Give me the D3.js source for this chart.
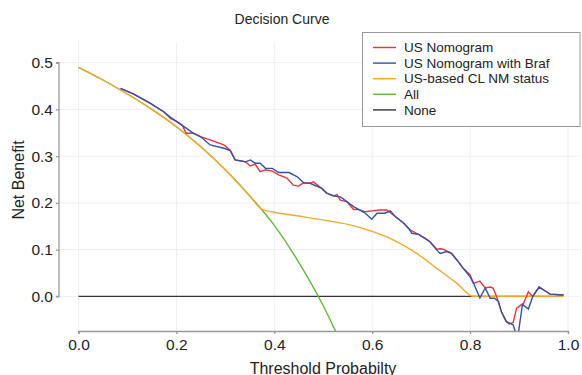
<!DOCTYPE html>
<html>
<head>
<meta charset="utf-8">
<script src="https://cdn.jsdelivr.net/npm/d3@7"></script>
<style>
  body { margin: 0; background: #fff; }
  text { font-family: "Liberation Sans", Arial, Helvetica, sans-serif; fill: #222; }
</style>
</head>
<body>
<div id="chart"></div>
<script>
// Series: [threshold, net benefit]
var usNomogram = [
  [0.086, 0.445], [0.113, 0.433], [0.147, 0.413], [0.174, 0.395], [0.188, 0.381],
  [0.201, 0.374], [0.212, 0.366], [0.220, 0.349], [0.235, 0.349], [0.249, 0.342],
  [0.269, 0.335], [0.297, 0.324], [0.310, 0.313], [0.320, 0.292], [0.341, 0.288],
  [0.351, 0.279], [0.361, 0.283], [0.371, 0.267], [0.382, 0.271], [0.396, 0.268],
  [0.409, 0.260], [0.426, 0.253], [0.439, 0.238], [0.449, 0.236], [0.460, 0.243],
  [0.473, 0.242], [0.480, 0.245], [0.497, 0.231], [0.507, 0.221], [0.521, 0.215],
  [0.528, 0.218], [0.535, 0.206], [0.548, 0.203], [0.562, 0.186], [0.572, 0.186],
  [0.586, 0.181], [0.599, 0.183], [0.616, 0.185], [0.630, 0.185], [0.647, 0.171],
  [0.664, 0.157], [0.674, 0.146], [0.681, 0.140], [0.694, 0.133], [0.708, 0.124],
  [0.718, 0.117], [0.732, 0.101], [0.739, 0.102], [0.745, 0.101], [0.762, 0.092],
  [0.773, 0.078], [0.786, 0.060], [0.800, 0.046], [0.807, 0.028], [0.820, 0.033],
  [0.831, 0.018], [0.841, 0.020], [0.847, 0.018], [0.854, 0.000], [0.864, -0.033],
  [0.874, -0.054], [0.880, -0.059], [0.888, -0.056], [0.895, -0.025], [0.909, -0.015],
  [0.919, 0.010], [0.928, 0.000], [0.941, 0.020], [0.956, 0.010], [0.963, 0.005],
  [0.991, 0.003]
];

var usNomogramBraf = [
  [0.086, 0.445], [0.113, 0.433], [0.147, 0.413], [0.174, 0.395], [0.188, 0.383],
  [0.201, 0.374], [0.220, 0.360], [0.235, 0.349], [0.249, 0.342], [0.269, 0.324],
  [0.297, 0.317], [0.310, 0.312], [0.320, 0.292], [0.341, 0.288], [0.351, 0.292],
  [0.361, 0.285], [0.371, 0.285], [0.382, 0.274], [0.396, 0.274], [0.409, 0.265],
  [0.430, 0.265], [0.447, 0.256], [0.460, 0.243], [0.473, 0.242], [0.497, 0.231],
  [0.507, 0.221], [0.521, 0.215], [0.535, 0.213], [0.548, 0.203], [0.562, 0.192],
  [0.572, 0.186], [0.586, 0.178], [0.599, 0.165], [0.610, 0.178], [0.626, 0.178],
  [0.637, 0.183], [0.647, 0.171], [0.664, 0.157], [0.674, 0.146], [0.681, 0.135],
  [0.694, 0.133], [0.708, 0.124], [0.718, 0.117], [0.732, 0.099], [0.739, 0.092],
  [0.752, 0.096], [0.762, 0.092], [0.773, 0.078], [0.786, 0.060], [0.800, 0.042],
  [0.807, 0.028], [0.820, -0.003], [0.831, 0.018], [0.841, -0.004], [0.850, -0.004],
  [0.858, -0.011], [0.864, -0.033], [0.874, -0.054], [0.883, -0.058], [0.888, -0.061],
  [0.897, -0.090], [0.907, -0.017], [0.919, -0.027], [0.928, 0.000], [0.941, 0.020],
  [0.956, 0.010], [0.963, 0.005], [0.991, 0.003]
];

var clNmStatus = [
  [0.00, 0.490], [0.05, 0.463], [0.10, 0.433], [0.15, 0.400], [0.20, 0.363],
  [0.25, 0.320], [0.30, 0.271], [0.35, 0.215], [0.375, 0.186], [0.40, 0.180],
  [0.45, 0.172], [0.52, 0.160], [0.555, 0.153], [0.60, 0.139], [0.643, 0.121],
  [0.691, 0.092], [0.732, 0.060], [0.773, 0.028], [0.807, 0.000], [0.99, 0.000]
];

var treatAll = [
  [0.00, 0.490], [0.05, 0.463], [0.10, 0.433], [0.15, 0.400], [0.20, 0.363],
  [0.25, 0.320], [0.30, 0.271], [0.35, 0.215], [0.40, 0.152], [0.45, 0.073],
  [0.50, -0.020], [0.53, -0.085]
];

var treatNone = [[0.00, 0.000], [0.99, 0.000]];

var xTicks = [0, 0.2, 0.4, 0.6, 0.8, 1.0];
var yTicks = [0, 0.1, 0.2, 0.3, 0.4, 0.5];

var seriesNames = ["US Nomogram", "US Nomogram with Braf", "US-based CL NM status", "All", "None"];
var seriesColors = ["#ee3338", "#3352a8", "#f7a62e", "#62b83a", "#333333"];

var W = 582, H = 375;

var svg = d3.select("#chart")
  .append("svg")
  .attr("width", W)
  .attr("height", H);

var x = d3.scaleLinear().domain([0, 1]).range([78.5, 568]);
var y = d3.scaleLinear().domain([-0.074, 0.5]).range([331, 62.7]);

// plot area clip
svg.append("clipPath")
  .attr("id", "plotclip")
  .append("rect")
  .attr("x", 60).attr("y", 40)
  .attr("width", 520).attr("height", y(-0.074) - 40);

// Gridlines
svg.append("g")
  .selectAll("line")
  .data(xTicks)
  .join("line")
  .attr("x1", function (d) { return x(d); })
  .attr("x2", function (d) { return x(d); })
  .attr("y1", 42.5)
  .attr("y2", 331)
  .attr("stroke", "#eeeeee")
  .attr("stroke-width", 1);

svg.append("g")
  .selectAll("line")
  .data(yTicks)
  .join("line")
  .attr("x1", 60)
  .attr("x2", 580)
  .attr("y1", function (d) { return y(d); })
  .attr("y2", function (d) { return y(d); })
  .attr("stroke", "#eeeeee")
  .attr("stroke-width", 1);

// Axes
var xAxis = svg.append("g")
  .attr("transform", "translate(0," + 331 + ")")
  .call(d3.axisBottom(x).tickValues(xTicks).tickFormat(d3.format(".1f")).tickSizeOuter(0).tickSize(3).tickPadding(5));

var yAxis = svg.append("g")
  .attr("transform", "translate(59,0)")
  .call(d3.axisLeft(y).tickValues(yTicks).tickFormat(d3.format(".1f")).tickSizeOuter(0).tickSize(3).tickPadding(3));

[xAxis, yAxis].forEach(function (a) {
  a.select(".domain").attr("stroke", "#999").attr("stroke-width", 1.3);
  a.selectAll(".tick line").attr("stroke", "#999").attr("stroke-width", 1.3);
  a.selectAll(".tick text")
    .style("font-family", "'Liberation Sans', Arial, sans-serif")
    .style("font-size", "15.5px")
    .attr("fill", "#222");
});
yAxis.select(".domain").attr("d", "M-3," + y(0.5) + "H0V" + y(0) + "H-3");

// Lines
var line = d3.line()
  .x(function (d) { return x(d[0]); })
  .y(function (d) { return y(d[1]); });

var smooth = d3.line()
  .x(function (d) { return x(d[0]); })
  .y(function (d) { return y(d[1]); })
  .curve(d3.curveMonotoneX);

var plot = svg.append("g").attr("clip-path", "url(#plotclip)");

plot.append("path").datum(treatNone)
  .attr("d", line).attr("fill", "none")
  .attr("stroke", seriesColors[4]).attr("stroke-width", 1.3);

plot.append("path").datum(treatAll)
  .attr("d", smooth).attr("fill", "none")
  .attr("stroke", seriesColors[3]).attr("stroke-width", 1.4);

plot.append("path").datum(clNmStatus)
  .attr("d", smooth).attr("fill", "none")
  .attr("stroke", seriesColors[2]).attr("stroke-width", 1.4);

plot.append("path").datum(usNomogram)
  .attr("d", line).attr("fill", "none")
  .attr("stroke", seriesColors[0]).attr("stroke-width", 1.4);

plot.append("path").datum(usNomogramBraf)
  .attr("d", line).attr("fill", "none")
  .attr("stroke", seriesColors[1]).attr("stroke-width", 1.4);

// Title and axis labels
svg.append("text")
  .attr("x", 282)
  .attr("y", 24)
  .attr("text-anchor", "middle")
  .attr("font-size", "14px")
  .text("Decision Curve");

svg.append("text")
  .attr("x", 323)
  .attr("y", 374)
  .attr("text-anchor", "middle")
  .attr("font-size", "16px")
  .text("Threshold Probabilty");

svg.append("text")
  .attr("transform", "translate(24," + 180 + ") rotate(-90)")
  .attr("text-anchor", "middle")
  .attr("font-size", "16px")
  .text("Net Benefit");

// Legend
var legend = svg.append("g");
legend.append("rect")
  .attr("x", 362.5).attr("y", 32.5)
  .attr("width", 217.5).attr("height", 94)
  .attr("fill", "#fff")
  .attr("stroke", "#999")
  .attr("stroke-width", 1);

var rows = legend.selectAll("g.row")
  .data(seriesNames)
  .join("g")
  .attr("class", "row")
  .attr("transform", function (d, i) { return "translate(0," + (47.5 + i * 15.6) + ")"; });

rows.append("line")
  .attr("x1", 373).attr("x2", 396)
  .attr("stroke", function (d, i) { return seriesColors[i]; })
  .attr("stroke-width", 1.4);

rows.append("text")
  .attr("x", 404)
  .attr("dy", "0.35em")
  .attr("font-size", "13.5px")
  .text(function (d) { return d; });
</script>
</body>
</html>
